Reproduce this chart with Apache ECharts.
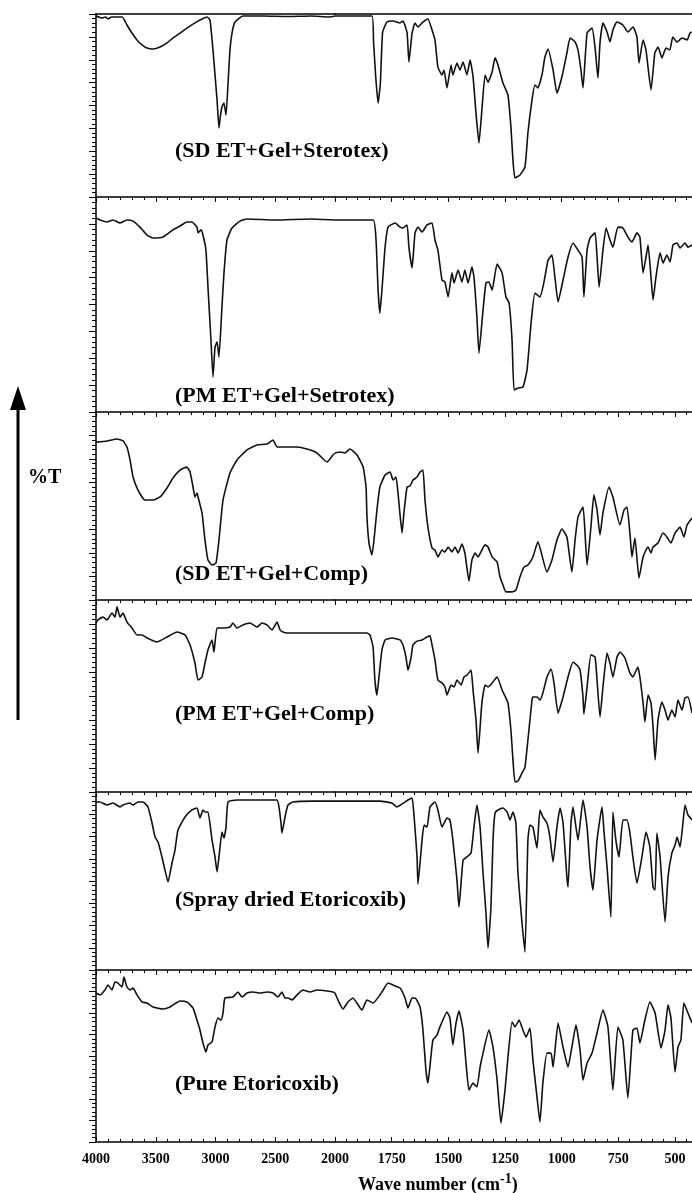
<!DOCTYPE html>
<html><head><meta charset="utf-8">
<script src="https://cdn.jsdelivr.net/npm/echarts@6/dist/echarts.min.js"></script>
<style>html,body{margin:0;padding:0;background:#fff;overflow:hidden;width:692px;height:1193px}#c{width:740px;height:1193px}</style>
</head><body><div id="c"></div><script>
// ---------- data (wavenumber cm-1, %T scaled 0-100 within each panel) ----------
const panelNames = ['(SD ET+Gel+Sterotex)', '(PM ET+Gel+Setrotex)', '(SD ET+Gel+Comp)', '(PM ET+Gel+Comp)', '(Spray dried Etoricoxib)', '(Pure Etoricoxib)'];
const xLabelsHigh = [4000, 3500, 3000, 2500, 2000];
const xLabelsLow = [1750, 1500, 1250, 1000, 750, 500];

const sdSterotex = [[4000,98.9],[3950,97.8],[3920,98.4],[3900,97.3],[3870,98.4],[3820,98.4],[3780,98.4],[3741,94.0],[3699,89.6],[3657,85.8],[3615,83.1],[3573,81.4],[3523,80.9],[3464,82.0],[3406,84.2],[3356,86.9],[3297,89.6],[3239,92.3],[3188,94.5],[3130,96.7],[3071,98.4],[3046,96.7],[3021,80.3],[3004,66.7],[2987,53.0],[2971,37.7],[2958,44.8],[2946,49.2],[2929,51.4],[2912,44.8],[2895,62.3],[2879,80.3],[2862,89.6],[2837,95.6],[2770,98.9],[2600,98.9],[2400,98.6],[2200,98.9],[2050,98.4],[2000,98.9],
[1837,98.9],[1830,85.0],[1820,65.0],[1810,51.3],[1800,62.0],[1790,90.0],[1771,95.6],[1744,96.2],[1713,95.1],[1700,96.2],[1682,89.6],[1674,73.8],[1660,89.6],[1647,95.1],[1634,92.9],[1612,95.6],[1590,97.3],[1572,91.3],[1559,85.8],[1546,71.0],[1528,66.7],[1519,69.4],[1506,59.6],[1488,72.1],[1480,66.7],[1462,73.2],[1449,69.4],[1435,73.8],[1418,66.7],[1404,74.9],[1391,65.6],[1378,45.9],[1365,29.5],[1352,47.5],[1338,66.7],[1325,62.8],[1307,68.3],[1294,76.0],[1281,72.1],[1259,62.3],[1237,55.7],[1224,38.3],[1215,20.2],[1206,10.4],[1184,12.0],[1162,16.4],[1149,35.0],[1131,53.0],[1118,61.2],[1105,59.6],[1087,66.7],[1074,76.5],[1060,80.9],[1038,69.4],[1021,56.8],[999,65.6],[977,78.7],[963,86.9],[941,84.7],[928,80.3],[915,69.4],[906,59.6],[888,89.6],[866,92.3],[853,81.9],[840,65.0],[831,84.2],[818,95.1],[800,90.2],[787,84.7],[774,91.3],[756,95.6],[730,94.0],[708,90.2],[685,92.9],[668,87.4],[659,73.2],[641,85.8],[628,80.3],[606,58.5],[589,78.7],[575,82.0],[558,76.0],[540,81.4],[523,80.3],[510,87.4],[491,84.7],[469,86.9],[447,85.8],[434,89.6],[425,90.2]];

const pmSterotex = [[4000,90.2],[3967,89.3],[3908,88.4],[3858,89.3],[3799,87.9],[3741,89.3],[3690,88.8],[3632,86.0],[3573,82.3],[3523,80.9],[3439,81.4],[3356,84.7],[3297,86.5],[3239,88.4],[3197,88.4],[3155,86.0],[3146,83.3],[3121,84.7],[3105,82.3],[3080,75.3],[3063,58.1],[3038,33.5],[3021,16.3],[3004,30.2],[2987,32.6],[2971,25.6],[2946,48.8],[2929,64.7],[2904,80.0],[2862,85.6],[2795,88.8],[2736,89.8],[2500,89.3],[2200,89.8],[2000,89.3],
[1832,89.3],[1819,80.0],[1810,56.7],[1802,46.0],[1793,56.7],[1779,76.7],[1766,86.0],[1735,87.9],[1713,86.0],[1700,85.6],[1682,87.0],[1674,76.7],[1660,67.0],[1647,83.3],[1634,86.0],[1616,83.7],[1594,87.0],[1572,87.9],[1559,80.0],[1546,75.3],[1528,61.4],[1515,60.5],[1501,53.5],[1484,64.7],[1475,60.0],[1457,66.0],[1440,60.5],[1427,66.0],[1413,60.0],[1396,67.4],[1387,62.8],[1374,44.2],[1365,27.4],[1347,47.4],[1334,60.0],[1321,60.5],[1307,56.7],[1285,68.8],[1263,64.7],[1246,53.5],[1232,50.7],[1219,33.5],[1210,10.2],[1193,11.2],[1171,11.6],[1153,19.5],[1135,41.4],[1118,55.3],[1096,53.5],[1078,60.5],[1060,70.7],[1043,73.0],[1030,62.8],[1016,51.2],[994,61.4],[972,72.1],[950,78.6],[928,75.3],[910,72.1],[902,53.5],[888,75.3],[875,80.9],[853,83.3],[844,72.1],[835,58.1],[818,75.3],[804,85.6],[787,80.0],[774,76.7],[752,86.0],[730,85.6],[708,81.4],[690,79.1],[668,83.3],[655,81.4],[641,64.7],[628,72.1],[619,77.7],[606,62.8],[597,52.1],[584,62.8],[566,74.0],[553,69.3],[536,73.0],[522,69.8],[509,77.7],[491,78.6],[478,76.3],[456,78.6],[443,76.7],[425,77.7]];

const sdComp = [[4000,84.0],[3908,84.6],[3824,85.6],[3774,84.6],[3741,81.4],[3715,74.5],[3690,65.4],[3649,58.5],[3590,53.2],[3523,53.2],[3464,54.8],[3406,59.6],[3356,64.9],[3297,69.1],[3239,70.7],[3213,68.1],[3188,60.1],[3172,54.8],[3155,56.9],[3146,54.8],[3113,46.3],[3088,31.9],[3063,21.3],[3029,18.6],[2996,19.7],[2971,31.9],[2937,53.2],[2879,67.6],[2820,74.5],[2736,79.8],[2653,82.4],[2569,83.0],[2519,85.1],[2485,81.4],[2402,81.4],[2318,81.4],[2234,80.3],[2151,78.2],[2067,73.4],[2017,77.1],[2000,78.2],
[1978,78.7],[1956,78.2],[1934,80.3],[1903,77.1],[1876,70.7],[1863,60.1],[1859,44.1],[1850,30.3],[1837,23.9],[1828,31.9],[1815,47.9],[1802,60.1],[1779,66.5],[1757,68.1],[1744,63.8],[1731,65.4],[1722,56.9],[1713,45.2],[1704,35.6],[1696,46.3],[1682,60.1],[1669,60.6],[1656,63.8],[1638,65.4],[1625,68.1],[1612,69.1],[1603,53.2],[1590,38.8],[1572,27.7],[1559,26.6],[1546,22.9],[1528,26.6],[1515,25.5],[1501,28.2],[1484,25.5],[1471,28.2],[1457,25.0],[1440,29.8],[1427,25.0],[1409,10.1],[1396,21.3],[1382,25.0],[1369,22.9],[1352,26.6],[1338,29.3],[1325,28.2],[1307,22.9],[1285,20.2],[1272,12.2],[1259,8.0],[1246,4.3],[1219,4.3],[1202,5.3],[1184,12.2],[1166,17.6],[1149,18.6],[1127,22.9],[1105,30.9],[1065,14.9],[1043,21.3],[1021,31.9],[999,37.8],[977,33.5],[955,14.9],[941,31.9],[928,44.1],[906,49.5],[897,35.6],[888,18.6],[871,38.8],[858,55.9],[844,47.9],[831,34.6],[818,46.3],[791,60.1],[774,54.8],[743,39.9],[725,47.9],[712,49.5],[699,35.6],[690,22.9],[677,33.0],[659,11.7],[641,22.9],[628,26.6],[619,28.2],[606,25.0],[597,28.2],[575,30.3],[553,35.6],[536,33.5],[518,30.3],[500,35.6],[478,38.8],[461,33.5],[447,39.9],[425,43.6]];

const pmComp = [[4000,88.0],[3983,89.6],[3941,91.1],[3908,89.6],[3866,93.2],[3841,91.1],[3824,96.4],[3799,91.1],[3774,93.2],[3741,88.5],[3699,85.4],[3657,81.8],[3615,81.8],[3573,80.2],[3490,78.1],[3406,80.7],[3322,83.3],[3255,81.8],[3213,76.6],[3172,67.2],[3146,58.3],[3113,59.9],[3088,67.2],[3063,74.0],[3029,79.2],[3013,72.9],[2987,85.4],[2937,85.4],[2879,85.9],[2854,88.0],[2820,85.4],[2770,87.0],[2711,88.0],[2653,85.9],[2611,88.0],[2569,87.0],[2527,84.4],[2485,88.5],[2460,84.4],[2435,83.3],[2402,82.8],[2184,82.8],[2000,82.8],
[1859,82.8],[1846,81.8],[1832,75.5],[1824,58.3],[1815,50.5],[1806,59.9],[1793,74.0],[1779,79.2],[1749,80.2],[1713,79.2],[1700,76.6],[1687,70.3],[1678,63.5],[1665,69.8],[1656,76.6],[1638,78.6],[1616,79.2],[1594,80.7],[1581,81.3],[1572,76.6],[1559,68.8],[1546,58.3],[1528,56.8],[1515,54.7],[1506,50.5],[1488,55.7],[1475,54.7],[1462,58.3],[1444,55.7],[1431,59.9],[1418,60.9],[1400,63.5],[1391,53.1],[1378,37.5],[1369,20.3],[1352,46.4],[1338,55.7],[1325,54.7],[1307,56.8],[1285,59.9],[1263,53.1],[1246,49.0],[1237,46.4],[1224,32.3],[1215,16.7],[1206,5.2],[1193,5.7],[1175,9.9],[1162,13.0],[1149,27.1],[1131,47.9],[1127,49.5],[1109,49.5],[1096,47.9],[1083,51.6],[1065,59.9],[1047,64.1],[1034,56.8],[1016,41.1],[994,49.5],[972,59.9],[950,67.7],[933,66.1],[919,63.5],[906,49.5],[902,40.6],[888,54.7],[871,71.4],[853,70.3],[844,58.3],[831,39.1],[818,54.7],[800,72.4],[787,67.2],[774,59.9],[756,70.3],[743,72.9],[721,69.8],[699,62.0],[686,59.9],[664,65.1],[655,59.9],[641,46.4],[633,36.5],[619,50.5],[606,46.4],[597,33.9],[588,16.7],[575,37.5],[558,46.9],[544,42.7],[531,37.5],[514,42.7],[500,39.1],[487,47.9],[469,42.7],[456,49.0],[443,49.5],[425,41.1]];

const sprayDried = [[4000,94.4],[3967,94.4],[3908,92.7],[3858,93.8],[3799,91.6],[3774,92.7],[3715,93.8],[3690,92.7],[3649,94.4],[3607,94.4],[3565,91.6],[3531,82.6],[3506,74.7],[3481,71.9],[3448,63.5],[3423,56.2],[3397,49.4],[3364,60.1],[3339,67.4],[3314,78.7],[3255,86.0],[3197,89.9],[3155,91.0],[3130,85.4],[3105,89.9],[3088,88.8],[3063,88.8],[3029,73.0],[3004,63.5],[2987,55.1],[2962,69.1],[2946,77.5],[2929,74.2],[2912,80.3],[2895,94.4],[2820,95.5],[2485,95.5],[2469,91.6],[2452,82.6],[2444,77.0],[2418,86.0],[2393,92.7],[2352,94.4],[2184,94.9],[2000,94.9],
[1801,94.9],[1749,93.8],[1727,91.6],[1704,93.3],[1678,95.5],[1660,96.6],[1651,86.0],[1638,63.5],[1634,48.3],[1616,73.0],[1607,81.5],[1594,80.3],[1581,91.6],[1559,94.4],[1546,89.9],[1528,80.3],[1506,85.4],[1493,84.3],[1480,73.0],[1462,50.6],[1453,35.4],[1435,61.8],[1418,63.5],[1400,65.7],[1387,80.3],[1374,92.7],[1360,80.3],[1347,54.5],[1334,32.0],[1325,12.4],[1312,35.4],[1303,73.0],[1294,88.2],[1281,89.9],[1259,91.0],[1241,88.8],[1228,84.3],[1215,88.8],[1202,82.6],[1193,54.5],[1175,26.4],[1162,10.1],[1149,73.0],[1140,81.5],[1127,80.3],[1109,68.5],[1096,89.9],[1083,86.0],[1065,82.6],[1052,74.7],[1038,60.7],[1021,80.3],[1007,91.0],[994,82.6],[977,52.2],[972,46.6],[959,82.6],[950,91.6],[937,80.3],[928,73.0],[906,95.5],[888,80.3],[875,57.9],[862,44.9],[844,73.0],[822,91.6],[813,77.0],[800,57.9],[783,29.8],[774,88.8],[761,73.0],[747,63.5],[730,84.3],[712,84.3],[699,77.0],[686,63.5],[668,48.9],[646,63.5],[628,77.5],[611,69.1],[597,46.6],[588,44.9],[580,77.0],[566,63.5],[544,27.0],[531,52.2],[514,65.7],[500,70.2],[491,74.7],[478,69.1],[465,82.6],[456,92.7],[443,87.1],[425,84.3]];

const pureEt = [[4000,86.6],[3967,85.5],[3925,88.4],[3900,91.3],[3866,88.4],[3841,93.0],[3816,92.4],[3782,90.1],[3766,95.9],[3741,90.1],[3715,88.4],[3690,89.5],[3657,85.5],[3615,81.4],[3573,80.8],[3523,78.5],[3439,77.3],[3381,78.5],[3297,82.0],[3239,81.4],[3188,77.9],[3155,70.9],[3130,65.1],[3105,57.6],[3080,52.3],[3063,56.4],[3029,58.1],[3004,66.9],[2979,72.1],[2954,70.9],[2937,75.0],[2921,83.7],[2854,84.3],[2812,87.2],[2778,84.3],[2736,86.6],[2686,87.2],[2628,86.6],[2569,87.2],[2519,86.6],[2477,84.3],[2444,87.2],[2418,83.7],[2393,83.7],[2360,82.6],[2318,85.5],[2268,88.4],[2209,87.2],[2151,88.4],[2067,87.8],[2017,87.2],[2000,86.6],
[1987,82.6],[1965,77.3],[1943,81.4],[1921,83.7],[1881,76.7],[1859,82.6],[1832,80.8],[1793,87.2],[1766,92.4],[1744,91.3],[1713,89.5],[1691,83.7],[1678,77.9],[1660,83.7],[1647,83.7],[1625,78.5],[1612,65.1],[1599,41.9],[1590,34.3],[1577,49.4],[1568,59.3],[1550,62.2],[1537,66.9],[1506,75.6],[1493,72.1],[1480,56.4],[1466,69.2],[1453,76.2],[1435,65.1],[1422,45.9],[1409,30.2],[1391,34.3],[1374,32.0],[1360,43.6],[1347,51.7],[1321,65.1],[1303,55.2],[1285,36.0],[1268,11.0],[1250,30.2],[1237,49.4],[1219,69.8],[1206,66.9],[1188,70.9],[1171,65.1],[1157,61.0],[1140,66.3],[1127,47.7],[1109,26.2],[1096,11.6],[1083,34.3],[1065,51.7],[1047,51.7],[1038,43.6],[1016,69.2],[994,55.2],[972,43.6],[955,55.2],[937,68.0],[919,53.5],[906,36.0],[888,45.9],[866,51.7],[844,63.4],[818,76.7],[796,66.9],[774,30.2],[752,66.9],[730,59.3],[708,25.6],[686,65.1],[668,66.3],[655,57.6],[633,70.9],[611,81.4],[588,75.0],[562,54.7],[544,65.1],[531,79.7],[518,72.1],[500,40.7],[487,55.2],[474,59.3],[461,80.8],[443,75.0],[425,69.2]];

const spectra = [sdSterotex, pmSterotex, sdComp, pmComp, sprayDried, pureEt];

// ---------- layout ----------
const tops = [14, 197, 412, 600, 792, 970];
const heights = [183, 215, 188, 192, 178, 172];
const leftX = 96, breakX = 335, rightW = 396.7;
const labelY = [152, 397, 575, 715, 901, 1085];
const FONT = 'Liberation Serif';
const black = '#000';

const grid = [], xAxis = [], yAxis = [], series = [];
spectra.forEach((sp, i) => {
  const last = i === spectra.length - 1;
  grid.push({left: leftX, top: tops[i], width: breakX - leftX, height: heights[i]});
  grid.push({left: breakX, top: tops[i], width: rightW, height: heights[i]});
  const gL = 2 * i, gR = 2 * i + 1;
  const common = (labels) => ({
    type: 'value', inverse: true, position: 'bottom',
    axisLine: {show: true, onZero: false, lineStyle: {color: black, width: 1.5}},
    axisTick: {show: true, inside: last, length: 5, lineStyle: {color: black, width: 1}},
    minorTick: {show: true, splitNumber: 5, length: 3, lineStyle: {color: black, width: 1}},
    splitLine: {show: false}, minorSplitLine: {show: false},
    axisLabel: {show: last, formatter: v => labels.includes(v) ? String(v) : '',
      fontFamily: FONT, fontWeight: 'bold', fontSize: 14, color: black, margin: 10}
  });
  const xl = Object.assign(common(xLabelsHigh), {gridIndex: gL, min: 2000, max: 4000, interval: 500});
  xl.axisLabel.showMinLabel = true; xl.axisLabel.showMaxLabel = true;
  const xr = Object.assign(common(xLabelsLow), {gridIndex: gR, min: 250, max: 2000, interval: 250});
  xr.axisLabel.showMaxLabel = false; xr.axisLabel.showMinLabel = false;
  const xlIdx = xAxis.length; xAxis.push(xl);
  const xrIdx = xAxis.length; xAxis.push(xr);
  if (i === 0) {
    [gL, gR].forEach((g, k) => xAxis.push({type: 'value', gridIndex: g, position: 'top', min: k ? 250 : 2000, max: k ? 2000 : 4000, inverse: true,
      axisLine: {show: true, onZero: false, lineStyle: {color: black, width: 1.5}}, axisTick: {show: false}, axisLabel: {show: false}, splitLine: {show: false}}));
  }
  const ylIdx = yAxis.length;
  yAxis.push({type: 'value', gridIndex: gL, min: 0, max: 100, interval: 12.5,
    axisLine: {show: true, onZero: false, lineStyle: {color: black, width: 1.5}},
    axisTick: {show: true, length: 7, lineStyle: {color: black, width: 1}},
    minorTick: {show: true, splitNumber: 5, length: 4, lineStyle: {color: black, width: 1}},
    axisLabel: {show: false}, splitLine: {show: false}});
  const yrIdx = yAxis.length;
  yAxis.push({type: 'value', gridIndex: gR, min: 0, max: 100, show: false, splitLine: {show: false}});
  const line = {type: 'line', symbol: 'none', smooth: 0.15, animation: false,
    lineStyle: {color: '#111', width: 1.6}, clip: true};
  series.push(Object.assign({}, line, {xAxisIndex: xlIdx, yAxisIndex: ylIdx, data: sp.filter(p => p[0] >= 2000)}));
  series.push(Object.assign({}, line, {xAxisIndex: xrIdx, yAxisIndex: yrIdx, data: sp.filter(p => p[0] <= 2000)}));
});

const graphic = panelNames.map((t, i) => ({
  type: 'text', left: 175, top: labelY[i] - 12, z: 10,
  style: {text: t, font: 'bold 22px "Liberation Serif"', fill: black}
}));
graphic.push({type: 'text', left: 358, top: 1172, z: 10,
  style: {text: '{n|Wave number (cm}{s|-1}{n|)}', rich: {
    n: {fontFamily: FONT, fontWeight: 'bold', fontSize: 18, lineHeight: 22, verticalAlign: 'bottom', fill: black},
    s: {fontFamily: FONT, fontWeight: 'bold', fontSize: 14, lineHeight: 22, verticalAlign: 'top', fill: black}}}});
graphic.push({type: 'line', shape: {x1: 18, y1: 720, x2: 18, y2: 405}, style: {stroke: black, lineWidth: 3}});
graphic.push({type: 'polygon', shape: {points: [[10, 410], [26, 410], [18, 386]]}, style: {fill: black}});
graphic.push({type: 'text', left: 28, top: 468, style: {text: '%T', font: 'bold 20px "Liberation Serif"', fill: black}});

const chart = echarts.init(document.getElementById('c'), null, {renderer: 'canvas'});
chart.setOption({animation: false, backgroundColor: '#fff', grid, xAxis, yAxis, series, graphic});
</script></body></html>
